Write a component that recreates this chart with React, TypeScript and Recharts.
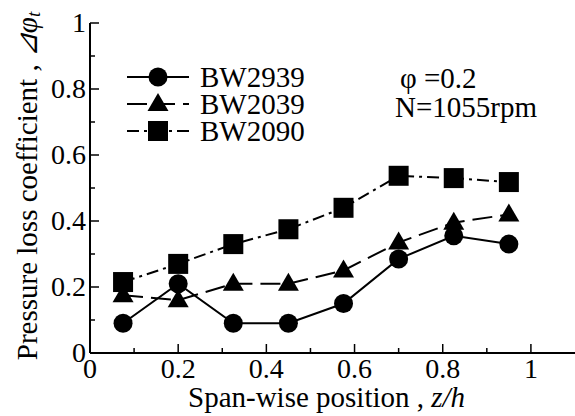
import React from 'react';
import { LineChart, Line, XAxis, YAxis, Legend } from 'recharts';

const SPAN = [0.075, 0.2, 0.325, 0.45, 0.575, 0.7, 0.825, 0.95];
const BW2939 = [0.09, 0.21, 0.09, 0.09, 0.15, 0.285, 0.355, 0.33];
const BW2039 = [0.175, 0.16, 0.21, 0.21, 0.25, 0.335, 0.395, 0.42];
const BW2090 = [0.215, 0.27, 0.33, 0.375, 0.44, 0.537, 0.53, 0.518];
const X_TICKS = [0, 0.1, 0.2, 0.3, 0.4, 0.5, 0.6, 0.7, 0.8, 0.9, 1.0];
const Y_TICKS = [0, 0.1, 0.2, 0.3, 0.4, 0.5, 0.6, 0.7, 0.8, 0.9, 1.0];
const SERIES_NAMES = ['BW2939', 'BW2039', 'BW2090'];

const data = SPAN.map((x, i) => ({ x, a: BW2939[i], b: BW2039[i], c: BW2090[i] }));

const W = 575;
const H = 416;
const LEFT = 90;
const TOP = 23;
const BOTTOM = 353;
const RIGHT = 575;
const FONT = '"Liberation Serif", "Times New Roman", serif';
const FS = 29;
const TICK_FS = 28;

const DASH_B = '20 8';
const DASH_C = '12 5 3 5';

const isMajor = (v: number) => Math.round(v * 10) % 2 === 0;
const fmt = (v: number) => (v === 0 ? '0' : v === 1 ? '1' : v.toFixed(1));

const BottomTick = (p: any) => {
  const v = p.payload.value;
  const m = isMajor(v);
  return (
    <g>
      <line x1={p.x} x2={p.x} y1={BOTTOM} y2={BOTTOM - (m ? 9 : 5)} stroke="#000" strokeWidth={1.5} />
      {m && (
        <text x={p.x} y={378} textAnchor="middle" fontFamily={FONT} fontSize={TICK_FS} fill="#000">
          {fmt(v)}
        </text>
      )}
    </g>
  );
};

const TopTick = (p: any) => {
  const m = isMajor(p.payload.value);
  return <line x1={p.x} x2={p.x} y1={TOP} y2={TOP + (m ? 9 : 5)} stroke="#000" strokeWidth={1.5} />;
};

const LeftTick = (p: any) => {
  const v = p.payload.value;
  const m = isMajor(v);
  return (
    <g>
      <line x1={LEFT} x2={LEFT + (m ? 9 : 5)} y1={p.y} y2={p.y} stroke="#000" strokeWidth={1.5} />
      {m && (
        <text x={LEFT - 4} y={p.y + 9} textAnchor="end" fontFamily={FONT} fontSize={TICK_FS} fill="#000">
          {fmt(v)}
        </text>
      )}
    </g>
  );
};

const RightTick = (p: any) => {
  const m = isMajor(p.payload.value);
  return <line x1={RIGHT} x2={RIGHT - (m ? 9 : 5)} y1={p.y} y2={p.y} stroke="#000" strokeWidth={1.5} />;
};

const Tri = ({ cx, cy }: any) =>
  cx == null ? null : (
    <polygon points={`${cx},${cy - 11} ${cx - 10.5},${cy + 7} ${cx + 10.5},${cy + 7}`} fill="#000" />
  );
const Sq = ({ cx, cy }: any) =>
  cx == null ? null : <rect x={cx - 10} y={cy - 10} width={20} height={20} fill="#000" />;
const Circ = ({ cx, cy }: any) => (cx == null ? null : <circle cx={cx} cy={cy} r={9.5} fill="#000" />);

const LegendBox = () => {
  const rows = [77, 104, 131];
  const dashes = [undefined, DASH_B, DASH_C];
  return (
    <svg width={W} height={H} style={{ position: 'absolute', left: 0, top: 0, pointerEvents: 'none' }}>
      {rows.map((y, i) => (
        <g key={i}>
          <line x1={127} x2={189} y1={y} y2={y} stroke="#000" strokeWidth={2} strokeDasharray={dashes[i]} />
          {i === 0 && <Circ cx={158} cy={y} />}
          {i === 1 && <Tri cx={158} cy={y} />}
          {i === 2 && <Sq cx={158} cy={y} />}
          <text x={200} y={y + 10} fontFamily={FONT} fontSize={FS} fill="#000">
            {SERIES_NAMES[i]}
          </text>
        </g>
      ))}
      <text x={400} y={88} fontFamily={FONT} fontSize={FS} fill="#000">
        φ =0.2
      </text>
      <text x={395} y={117} fontFamily={FONT} fontSize={FS} fill="#000">
        N=1055rpm
      </text>
      <text x={188} y={407} fontFamily={FONT} fontSize={FS} fill="#000">
        Span-wise position ,{' '}
        <tspan fontStyle="italic">z/h</tspan>
      </text>
      <text
        x={27}
        y={186}
        transform="rotate(-90 27 186)"
        textAnchor="middle"
        dominantBaseline="central"
        fontFamily={FONT}
        fontSize={FS}
        fill="#000"
      >
        Pressure loss coefficient ,{' '}
        <tspan fontStyle="italic">⊿φ</tspan>
        <tspan fontStyle="italic" fontSize={19} dy={6}>
          t
        </tspan>
      </text>
    </svg>
  );
};

export default function App() {
  return (
    <div style={{ position: 'relative', width: W, height: H, background: '#fff' }}>
      <style>{'body{margin:0;background:#fff}'}</style>
      <LineChart width={W} height={H} data={data} margin={{ top: TOP, right: 0, bottom: 0, left: 0 }}>
        <XAxis
          type="number"
          dataKey="x"
          domain={[0, 1.1]}
          ticks={X_TICKS}
          interval={0}
          height={H - BOTTOM}
          tick={<BottomTick />}
          tickLine={false}
          axisLine={{ stroke: '#000', strokeWidth: 2 }}
        />
        <XAxis
          xAxisId="top"
          orientation="top"
          type="number"
          domain={[0, 1.1]}
          ticks={X_TICKS}
          interval={0}
          height={0}
          tick={<TopTick />}
          tickLine={false}
          axisLine={{ stroke: '#000', strokeWidth: 2 }}
        />
        <YAxis
          type="number"
          domain={[0, 1]}
          ticks={Y_TICKS}
          interval={0}
          width={LEFT}
          tick={<LeftTick />}
          tickLine={false}
          axisLine={{ stroke: '#000', strokeWidth: 2 }}
        />
        <YAxis
          yAxisId="right"
          orientation="right"
          type="number"
          domain={[0, 1]}
          ticks={Y_TICKS}
          interval={0}
          width={0}
          tick={<RightTick />}
          tickLine={false}
          axisLine={{ stroke: '#000', strokeWidth: 2 }}
        />
        <Line dataKey="c" stroke="#000" strokeWidth={2} strokeDasharray={DASH_C} dot={<Sq />} isAnimationActive={false} />
        <Line dataKey="b" stroke="#000" strokeWidth={2} strokeDasharray={DASH_B} dot={<Tri />} isAnimationActive={false} />
        <Line dataKey="a" stroke="#000" strokeWidth={2} dot={<Circ />} isAnimationActive={false} />
        <Legend content={() => null} />
      </LineChart>
      <LegendBox />
    </div>
  );
}
